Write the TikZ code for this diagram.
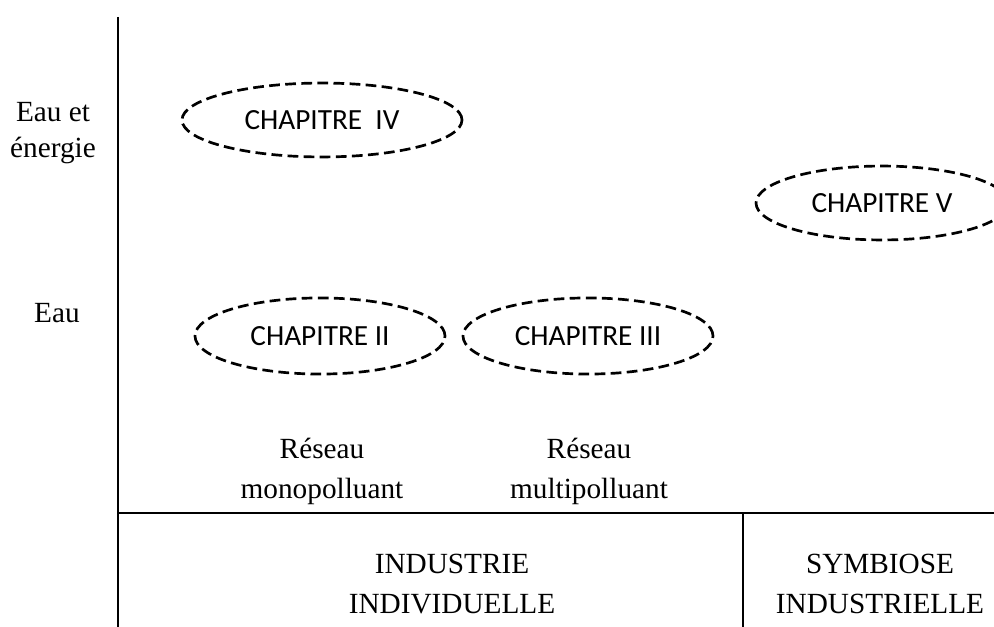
\documentclass[tikz,border=0pt]{standalone}
\usepackage{fontspec}
\setmainfont{Liberation Serif}
\newfontfamily\chapfont{Carlito}
\usetikzlibrary{shapes.geometric}
\tikzset{
  axisline/.style={line width=0.85pt},
  chapter/.style={ellipse, draw, line width=1.1pt, dash pattern=on 4.4pt off 2.2pt,
    inner sep=0pt, font=\chapfont\fontsize{12}{14}\selectfont},
  lbl/.style={inner sep=0pt, align=center, anchor=base},
}
\begin{document}
\begin{tikzpicture}[x=0.41pt, y=-0.41pt]
  \useasboundingbox (0,0) rectangle (994,627);
  \clip (0,0) rectangle (994,627);

  % axes and column separator
  \coordinate (axtop) at (118,17);
  \coordinate (axbot) at (118,627);
  \coordinate (hleft) at (118,513);
  \coordinate (hright) at (994,513);
  \coordinate (septop) at (743,513);
  \coordinate (sepbot) at (743,627);
  \draw[axisline] (axtop) -- (axbot);
  \draw[axisline] (hleft) -- (hright);
  \draw[axisline] (septop) -- (sepbot);

  % row labels (multi-line nodes sit on the baseline of their last line)
  \node[lbl, font=\fontsize{12}{14.8}\selectfont] (rowboth) at (53,158) {Eau et\\énergie};
  \node[lbl, font=\fontsize{12}{14}\selectfont] (rowwater) at (57,322) {Eau};

  % chapters
  \node[chapter, minimum width=114.8pt, minimum height=30.3pt] (ch4) at (322,120) {CHAPITRE\ \ IV};
  \node[chapter, minimum width=103.3pt, minimum height=30.3pt] (ch5) at (882,203) {CHAPITRE V};
  \node[chapter, minimum width=102.5pt, minimum height=31.2pt] (ch2) at (320,336) {CHAPITRE II};
  \node[chapter, minimum width=102.5pt, minimum height=31.2pt] (ch3) at (588,336) {CHAPITRE III};

  % network types
  \node[lbl, font=\fontsize{12}{16.4}\selectfont] (mono) at (322,498) {Réseau\\monopolluant};
  \node[lbl, font=\fontsize{12}{16.4}\selectfont] (multi) at (589,498) {Réseau\\multipolluant};

  % column headings
  \node[lbl, font=\fontsize{12}{16}\selectfont] (indiv) at (452,613) {INDUSTRIE\\INDIVIDUELLE};
  \node[lbl, font=\fontsize{12}{16}\selectfont] (symb) at (880,613) {SYMBIOSE\\INDUSTRIELLE};
\end{tikzpicture}
\end{document}
